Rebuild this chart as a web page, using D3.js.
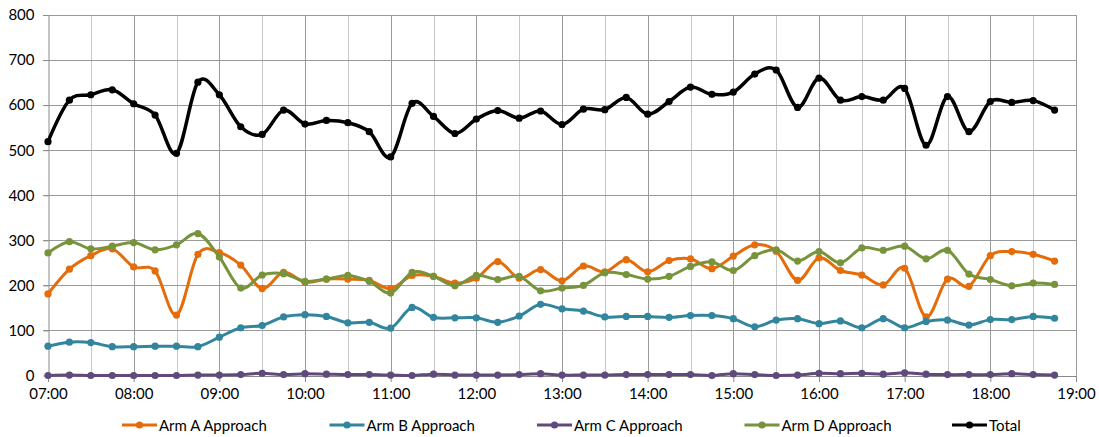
<!DOCTYPE html>
<html lang="en">
<head>
  <meta charset="utf-8">
  <script src="https://cdnjs.cloudflare.com/ajax/libs/d3/7.8.5/d3.min.js"></script>
  <title>Approach Flows</title>
</head>

<style>
body{
  margin:0;
  background:#fff;
}
text{
  font-family: Lato, "Open Sans", sans-serif;
  fill:#000;
}
</style>

<body>
  <div id="chart"></div>
</body>
</html>

<script>
  // quarter-hour counts, 07:00 .. 18:45
  const armA = [181,236,266,281,241,232,134,269,273,245,193,229,207,214,214,211,
                193,222,220,205,216,253,216,235,210,243,230,257,230,255,259,237,
                265,290,276,211,261,233,223,201,238,130,214,198,266,275,269,254];
  const armB = [65,74,73,64,64,65,65,64,85,106,111,130,135,131,117,118,
                105,151,129,128,128,118,132,158,148,143,130,131,131,129,133,133,
                126,108,123,126,115,121,106,126,106,120,123,112,124,124,131,127];
  const armC = [0,1,0,0,0,0,0,1,1,2,5,2,4,3,2,2,
                1,0,3,1,1,1,2,4,1,1,1,2,2,2,2,0,
                4,2,0,1,5,4,5,3,6,3,2,2,2,4,2,1];
  const armD = [272,297,281,287,295,279,290,315,263,194,223,226,209,214,222,209,
                183,229,220,199,222,213,220,188,194,200,228,224,214,220,242,252,
                233,266,279,254,275,250,283,278,287,259,278,225,213,199,205,202];
  const total = [519,611,623,634,603,578,493,651,623,552,535,589,558,566,561,541,
                 485,604,575,537,569,588,571,587,557,591,590,617,580,608,640,624,
                 629,669,678,595,660,611,619,611,637,511,619,541,608,606,610,589];

  const seriesNames = ["Arm A Approach","Arm B Approach","Arm C Approach","Arm D Approach","Total"];
  const seriesColors = ["#e46c0a","#31859c","#604a7b","#77933c","#000000"];
  const seriesValues = [armA, armB, armC, armD, total];

  const yTicks = [0,100,200,300,400,500,600,700,800];
  const xTickLabels = ["07:00","08:00","09:00","10:00","11:00","12:00","13:00","14:00","15:00","16:00","17:00","18:00","19:00"];

  const width = 1099, height = 437;
  const plotLeft = 48, plotRight = 1076, plotTop = 15, plotBottom = 375.5;

  const svg = d3.select("#chart").append("svg").attr("width", width).attr("height", height);

  const x = d3.scaleLinear().domain([7, 19]).range([plotLeft, plotRight]);
  const y = d3.scaleLinear().domain([0, 800]).range([plotBottom, plotTop]);

  // half-hour minor grid
  svg.append("g").selectAll("line")
    .data(d3.range(7.5, 19, 1))
    .enter()
    .append("line")
    .attr("x1", function(d){return Math.round(x(d)) + 0.5;}).attr("x2", function(d){return Math.round(x(d)) + 0.5;})
    .attr("y1", plotTop).attr("y2", plotBottom)
    .attr("stroke", "#c8c8c8").attr("stroke-width", 1);

  // hour grid
  svg.append("g").selectAll("line")
    .data(d3.range(8, 20, 1))
    .enter()
    .append("line")
    .attr("x1", function(d){return Math.round(x(d)) + 0.5;}).attr("x2", function(d){return Math.round(x(d)) + 0.5;})
    .attr("y1", plotTop).attr("y2", plotBottom)
    .attr("stroke", "#9a9a9a").attr("stroke-width", 1);

  // horizontal grid
  svg.append("g").selectAll("line")
    .data(yTicks.slice(1))
    .enter()
    .append("line")
    .attr("x1", plotLeft - 5).attr("x2", plotRight + 1)
    .attr("y1", function(d){return Math.round(y(d)) + 0.5;}).attr("y2", function(d){return Math.round(y(d)) + 0.5;})
    .attr("stroke", "#9a9a9a").attr("stroke-width", 1);

  const yAxis = d3.axisLeft(y).tickValues(yTicks).tickSize(5).tickSizeOuter(0).tickPadding(9);
  svg.append("g").attr("transform", "translate(" + (plotLeft + 0.5) + ",0)").call(yAxis)
    .call(function(g){
      g.selectAll("line, path").attr("stroke", "#8a8a8a");
      g.selectAll("text").style("font-size", "15px").style("font-family", "Lato, sans-serif");
    });

  const xAxis = d3.axisBottom(x).tickValues(d3.range(7, 20, 1))
    .tickFormat(function(d, i){return xTickLabels[i];}).tickSize(6).tickSizeOuter(0).tickPadding(6);
  svg.append("g").attr("transform", "translate(0," + (plotBottom + 0.5) + ")").call(xAxis)
    .call(function(g){
      g.selectAll("line, path").attr("stroke", "#8a8a8a");
      g.selectAll("text").style("font-size", "15px").style("font-family", "Lato, sans-serif");
    });

  const line = d3.line()
    .x(function(d, i){return x(7 + i * 0.25);})
    .y(function(d){return y(d);})
    .curve(d3.curveCardinal.tension(0));

  seriesValues.forEach(function(vals, s){
    const g = svg.append("g");
    g.append("path")
      .attr("d", line(vals))
      .attr("fill", "none")
      .attr("stroke", seriesColors[s])
      .attr("stroke-width", s == 4 ? 3.5 : 3)
      .attr("stroke-linejoin", "round");
    g.selectAll("circle")
      .data(vals)
      .enter()
      .append("circle")
      .attr("cx", function(d, i){return x(7 + i * 0.25);})
      .attr("cy", function(d){return y(d);})
      .attr("r", 3.6)
      .attr("fill", seriesColors[s]);
  });

  // legend
  const legend = svg.append("g").attr("transform", "translate(122,425)");
  const item = legend.selectAll("g")
    .data(seriesNames)
    .enter()
    .append("g")
    .attr("transform", function(d, i){return "translate(" + (i * 207.5) + ",0)";});
  item.append("line")
    .attr("x1", 0).attr("x2", 35).attr("y1", 0).attr("y2", 0)
    .attr("stroke", function(d, i){return seriesColors[i];})
    .attr("stroke-width", 3);
  item.append("circle")
    .attr("cx", 17.5).attr("cy", 0).attr("r", 3.6)
    .attr("fill", function(d, i){return seriesColors[i];});
  item.append("text")
    .attr("x", 37).attr("y", 5.5)
    .style("font-size", "15px")
    .text(function(d){return d;});
</script>
